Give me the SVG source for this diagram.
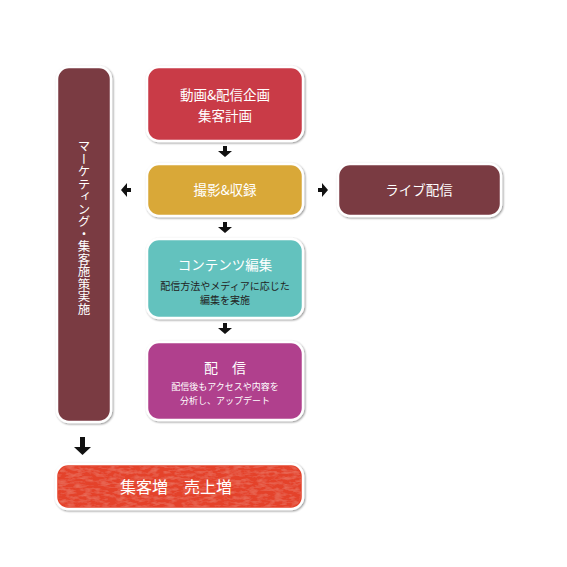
<svg xmlns="http://www.w3.org/2000/svg" width="567" height="567" viewBox="0 0 567 567">
<defs>
<filter id="sh" x="-10%" y="-10%" width="120%" height="130%">
<feGaussianBlur in="SourceAlpha" stdDeviation="1.2"/>
<feOffset dx="0.5" dy="1" result="b"/>
<feComponentTransfer><feFuncA type="linear" slope="0.45"/></feComponentTransfer>
<feMerge><feMergeNode/><feMergeNode in="SourceGraphic"/></feMerge>
</filter>
<filter id="tex" x="0" y="0" width="100%" height="100%">
<feTurbulence type="fractalNoise" baseFrequency="0.12 0.35" numOctaves="3" seed="7" result="n"/>
<feColorMatrix in="n" type="matrix" values="0 0 0 0 1  0 0 0 0 0.85  0 0 0 0 0.75  0 0 0 1.2 -0.5" result="m"/>
<feComposite in="m" in2="SourceGraphic" operator="in" result="c"/>
<feMerge><feMergeNode in="SourceGraphic"/><feMergeNode in="c"/></feMerge>
</filter>
</defs>
<style>
.box{stroke:#ffffff;stroke-width:2.5;filter:url(#sh)}
.t{font-family:"Noto Sans CJK JP","Noto Sans",sans-serif;fill:#ffffff;text-anchor:middle}
.arr{fill:#111111}
</style>
<rect width="567" height="567" fill="#ffffff"/>
<g id="connectors">
<path class="arr" d="M223,146 h4 v5 h5 l-7,6 l-7,-6 h5 z"/>
<path class="arr" d="M223,222 h4 v5 h5 l-7,6 l-7,-6 h5 z"/>
<path class="arr" d="M223,323 h4 v5 h5 l-7,6 l-7,-6 h5 z"/>
<path class="arr" d="M131,188 v4 h-4 v5 l-6,-7 l6,-7 v5 z"/>
<path class="arr" d="M318,188 v4 h4 v5 l6,-7 l-6,-7 v5 z"/>
<path class="arr" d="M80,437 h5 v10 h6 l-8.5,8 l-8.5,-8 h6 z"/>
</g>
<g id="marketing">
<rect class="box" x="57" y="67" width="54" height="355" rx="12" fill="#7a3a42"/>
<text class="t" x="84" y="140" font-size="12.5" writing-mode="tb" style="writing-mode:vertical-rl;text-anchor:start">マーケティング・集客施策実施</text>
</g>
<g id="plan">
<rect class="box" x="147" y="67" width="156" height="74" rx="12" fill="#c93a47"/>
<text class="t" x="225" y="100" font-size="13.5">動画&amp;配信企画</text>
<text class="t" x="225" y="121" font-size="13.5">集客計画</text>
</g>
<g id="shoot">
<rect class="box" x="147" y="164" width="156" height="52" rx="12" fill="#d9a838"/>
<text class="t" x="225" y="195" font-size="13.5">撮影&amp;収録</text>
</g>
<g id="live">
<rect class="box" x="338" y="164" width="163" height="52" rx="12" fill="#7a3a42"/>
<text class="t" x="419" y="195" font-size="13.5">ライブ配信</text>
</g>
<g id="edit">
<rect class="box" x="147" y="239" width="156" height="79" rx="12" fill="#63c2be"/>
<text class="t" x="225" y="270" font-size="13.5">コンテンツ編集</text>
<text class="t" x="225" y="290" font-size="10" style="fill:#222222">配信方法やメディアに応じた</text>
<text class="t" x="225" y="304" font-size="10" style="fill:#222222">編集を実施</text>
</g>
<g id="deliver">
<rect class="box" x="147" y="342" width="156" height="78" rx="12" fill="#b0418d"/>
<text class="t" x="225" y="373" font-size="14" xml:space="preserve">配　信</text>
<text class="t" x="225" y="390" font-size="9">配信後もアクセスや内容を</text>
<text class="t" x="225" y="404" font-size="9">分析し、アップデート</text>
</g>
<g id="result">
<rect class="box" x="56" y="464" width="247" height="45" rx="12" fill="#e4432b"/>
<rect x="58" y="466" width="243" height="41" rx="11" fill="#e4432b" filter="url(#tex)" opacity="0.35"/>
<text class="t" x="176" y="493" font-size="16" xml:space="preserve">集客増　売上増</text>
</g>
</svg>
